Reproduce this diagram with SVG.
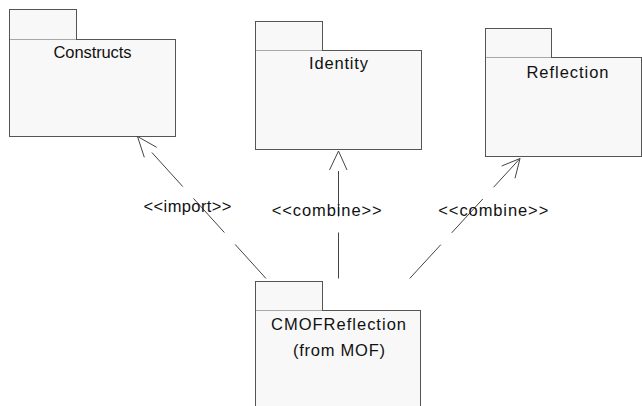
<svg xmlns="http://www.w3.org/2000/svg" width="642" height="406" viewBox="0 0 642 406">
<style>
.pkg rect{fill:#f8f8f8;stroke:#555555;stroke-width:1}
.pkg line{stroke:#a8a8a8;stroke-width:1}
.lbl{font-family:"Liberation Sans",Arial,sans-serif;font-size:16.5px;fill:#111111;text-anchor:middle}
.dep{fill:none;stroke:#444444;stroke-width:1;stroke-dasharray:46 16}
.head{fill:none;stroke:#444444;stroke-width:1}
</style>
<rect width="642" height="406" fill="#ffffff"/>
<g id="Constructs" class="pkg">
<rect x="9.5" y="9.5" width="67" height="30"/>
<rect x="9.5" y="39.5" width="166" height="97"/>
<line x1="10" y1="39.5" x2="76" y2="39.5"/>
<text class="lbl" x="92.5" y="58" textLength="78">Constructs</text>
</g>
<g id="Identity" class="pkg">
<rect x="255.5" y="21.5" width="67" height="29"/>
<rect x="255.5" y="50.5" width="166" height="99"/>
<line x1="256" y1="50.5" x2="322" y2="50.5"/>
<text class="lbl" x="338.5" y="69" textLength="59">Identity</text>
</g>
<g id="Reflection" class="pkg">
<rect x="485.5" y="28.5" width="66" height="29"/>
<rect x="485.5" y="57.5" width="156" height="99"/>
<line x1="486" y1="57.5" x2="551" y2="57.5"/>
<text class="lbl" x="567.5" y="77.5" textLength="82">Reflection</text>
</g>
<g id="CMOFReflection" class="pkg">
<rect x="255.5" y="281.5" width="67" height="29"/>
<rect x="255.5" y="310.5" width="165" height="110"/>
<line x1="256" y1="310.5" x2="322" y2="310.5"/>
<text class="lbl" x="338.5" y="330" textLength="135">CMOFReflection</text>
<text class="lbl" x="339" y="355.5" textLength="92">(from MOF)</text>
</g>
<g id="connectors">
<path class="dep" d="M266,278.5 L151.9,152.5"/>
<polyline class="head" points="156.7,147.3 137.5,136.5 144.3,157.3"/>
<text class="lbl" x="187.5" y="212" textLength="88">&lt;&lt;import&gt;&gt;</text>
<path class="dep" d="M338.5,278.5 L338.5,171"/>
<polyline class="head" points="329.5,170 338.5,151 347,170"/>
<text class="lbl" x="326.7" y="216" textLength="110">&lt;&lt;combine&gt;&gt;</text>
<path class="dep" d="M409.7,278.5 L520,158.5"/>
<polyline class="head" points="501.7,166 520,158.5 515,178.3"/>
<text class="lbl" x="493.3" y="216" textLength="110">&lt;&lt;combine&gt;&gt;</text>
</g>
</svg>
